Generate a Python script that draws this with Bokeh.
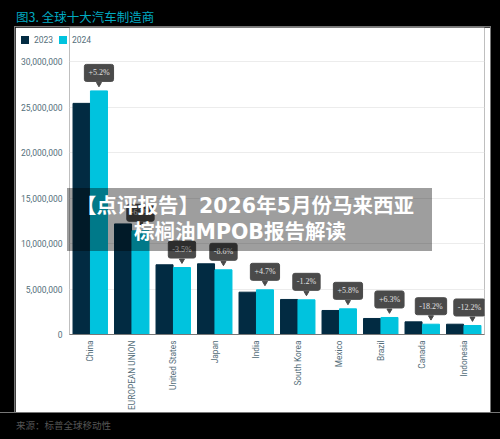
from bokeh.embed import file_html
from bokeh.resources import INLINE
from bokeh.plotting import figure
from bokeh.layouts import column
from bokeh.models import ColumnDataSource, Div, FixedTicker, NumeralTickFormatter
from bokeh.transform import dodge
import math

countries = ["China", "EUROPEAN UNION", "United States", "Japan", "India", "South Korea",
             "Mexico", "Brazil", "Canada", "Indonesia"]
sales_2023 = [25400000, 12150000, 7660000, 7770000, 4650000, 3850000, 2640000, 1760000, 1390000, 1130000]
sales_2024 = [26770000, 11400000, 7360000, 7110000, 4910000, 3810000, 2820000, 1870000, 1130000, 990000]
changes = ["+5.2%", "-6.2%", "-3.5%", "-8.6%", "+4.7%", "-1.2%", "+5.8%", "+6.3%", "-18.2%", "-12.2%"]
y_ticks = [0, 5000000, 10000000, 15000000, 20000000, 25000000, 30000000]
COLOR_2023 = "#022b42"
COLOR_2024 = "#00c3de"

PX = 5000000 / 45.5
src = ColumnDataSource(dict(c=countries, a=sales_2023, b=sales_2024, t=changes,
                            tip=[v + 7 * PX for v in sales_2024],
                            dx=[0, 0, 0, 0, 0, 0, 0, 0, 0, -3]))

p = figure(width=475, height=391, output_backend="svg", toolbar_location=None,
           x_range=countries, y_range=(0, 307 * PX),
           min_border_left=54, min_border_right=6, min_border_top=0, min_border_bottom=84,
           margin=(0, 0, 0, 15), styles={"box-shadow": "0 0 0 1px #777777"})
p.border_fill_color = "#ffffff"
p.background_fill_color = "#ffffff"
p.outline_line_color = None

p.vbar(x=dodge("c", -0.21, range=p.x_range), top="a", width=0.41, source=src, color=COLOR_2023)
p.vbar(x=dodge("c", 0.21, range=p.x_range), top="b", width=0.41, source=src, color=COLOR_2024)

p.scatter(x=dodge("c", 0.21, range=p.x_range), y="tip", source=src, marker="inverted_triangle", size=5,
          color="#4a4a4a")
p.text(x=dodge("c", 0.21, range=p.x_range), y="b", text="t", source=src, x_offset="dx", y_offset=-18,
       text_align="center", text_baseline="middle", text_font="Roboto", text_font_size="8px",
       text_color="#e0e0e0", background_fill_color="#4a4a4a", border_line_color="#4a4a4a",
       padding=4, border_radius=2)

p.xgrid.visible = False
p.ygrid.grid_line_color = "#ececec"
p.ygrid.grid_line_width = 1
p.yaxis.ticker = FixedTicker(ticks=y_ticks)
p.yaxis.formatter = NumeralTickFormatter(format="0,0")
p.yaxis.axis_line_color = None
p.yaxis.major_tick_line_color = None
p.yaxis.minor_tick_line_color = None
p.yaxis.major_tick_out = 0
p.yaxis.major_tick_in = 0
p.yaxis.major_label_text_font = "Roboto"
p.yaxis.major_label_text_font_size = "8.5px"
p.yaxis.major_label_text_color = "#546e7a"
p.yaxis.major_label_standoff = 7
p.xaxis.axis_line_color = "#777777"
p.xaxis.major_tick_line_color = None
p.xaxis.minor_tick_line_color = None
p.xaxis.major_tick_out = 0
p.xaxis.major_tick_in = 0
p.xaxis.major_label_orientation = math.pi / 2
p.xaxis.major_label_text_font = "Roboto"
p.xaxis.major_label_text_font_size = "8.3px"
p.xaxis.major_label_text_color = "#546e7a"
p.xaxis.major_label_standoff = 6


def legend_html(items):
    out = ""
    for label, color, sq_left, txt_left in items:
        out += (f'<span style="position:absolute;left:{sq_left}px;top:0;width:8px;height:8px;'
                f'background:{color}"></span>'
                f'<span style="position:absolute;left:{txt_left}px;top:-2px;line-height:12px">{label}</span>')
    return out


legend_div = Div(text=legend_html([("2023", COLOR_2023, 20.5, 34), ("2024", COLOR_2024, 59, 72)]),
                 width=120, height=12, margin=(0, 0, 0, 0),
                 styles={"position": "absolute", "left": "0px", "top": "35.5px", "color": "#546e7a",
                         "font-family": "Roboto", "font-size": "8.5px"})
title = Div(text="图3. 全球十大汽车制造商", width=300, height=27, margin=(0, 0, 0, 0),
            styles={"color": "#00a9c0", "font-family": "'Noto Sans CJK SC'", "font-size": "12.5px",
                    "padding-left": "16px", "padding-top": "8px", "line-height": "18px", "box-sizing": "border-box"})
source_note = Div(text="来源：标普全球移动性", width=500, height=27, margin=(0, 0, 0, 0),
                  styles={"position": "absolute", "left": "0px", "top": "412px", "background": "#000000",
                          "border-top": "1px solid #777777",
                          "color": "#555555", "font-family": "'Noto Sans CJK SC'", "font-size": "9.5px",
                          "padding-left": "16px", "padding-top": "6px", "line-height": "13px",
                          "box-sizing": "border-box"})
banner = Div(text='【点评报告】2026年5月份马来西亚<br><span style="position:relative;left:-5px">棕榈油MPOB报告解读</span>',
             width=365, height=63, margin=(0, 0, 0, 0),
             styles={"position": "absolute", "left": "67px", "top": "188px", "background": "rgba(0,0,0,0.38)",
                     "color": "#ffffff", "font-family": "'DejaVu Sans','Noto Sans CJK SC'", "font-size": "20.5px",
                     "font-weight": "bold", "text-align": "center", "line-height": "26px",
                     "padding-top": "5px", "padding-right": "9px", "box-sizing": "border-box"})

page = column(title, p, source_note, legend_div, banner, spacing=0, width=500, height=439, margin=(0, 0, 0, 0),
              styles={"background": "#000000", "position": "relative", "overflow": "hidden"})

html = file_html(page, INLINE)
html = html.replace("<head>", "<head><style>html,body{background:#000;margin:0;padding:0}</style>", 1)
open("out.html", "w").write(html)
